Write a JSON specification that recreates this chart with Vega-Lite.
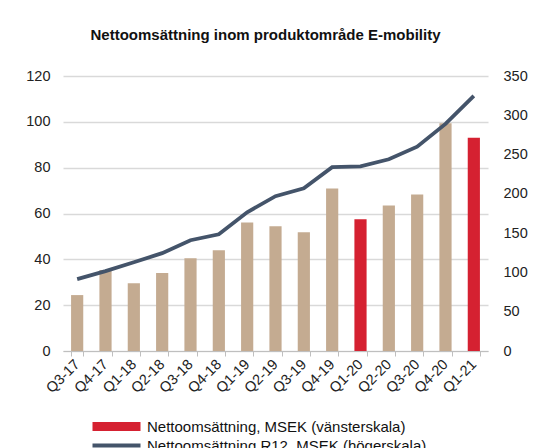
{
  "$schema": "https://vega.github.io/schema/vega-lite/v6.json",
  "width": 425,
  "height": 275,
  "autosize": "none",
  "padding": {"left": 63, "top": 76, "right": 68, "bottom": 97},
  "background": "white",
  "title": {"text": "Nettoomsättning inom produktområde E-mobility", "font": "Liberation Sans", "fontSize": 15, "fontWeight": "bold", "color": "#111", "offset": 25, "anchor": "middle", "dx": -10},
  "config": {
    "font": "Liberation Sans",
    "view": {"stroke": null},
    "axis": {"labelFont": "Liberation Sans", "labelFontSize": 14.5, "labelColor": "#222"},
    "legend": {"padding": 0}
  },
  "data": {"values": [
    {"q": "Q3-17", "sales": 24.4, "r12": 91.5, "hl": "ovrigt"},
    {"q": "Q4-17", "sales": 35.3, "r12": 101.6, "hl": "ovrigt"},
    {"q": "Q1-18", "sales": 29.6, "r12": 113, "hl": "ovrigt"},
    {"q": "Q2-18", "sales": 34.0, "r12": 124.5, "hl": "ovrigt"},
    {"q": "Q3-18", "sales": 40.5, "r12": 141, "hl": "ovrigt"},
    {"q": "Q4-18", "sales": 44.0, "r12": 148.6, "hl": "ovrigt"},
    {"q": "Q1-19", "sales": 56.1, "r12": 176.5, "hl": "ovrigt"},
    {"q": "Q2-19", "sales": 54.4, "r12": 197, "hl": "ovrigt"},
    {"q": "Q3-19", "sales": 51.8, "r12": 207, "hl": "ovrigt"},
    {"q": "Q4-19", "sales": 70.9, "r12": 234, "hl": "ovrigt"},
    {"q": "Q1-20", "sales": 57.5, "r12": 235, "hl": "Nettoomsättning, MSEK (vänsterskala)"},
    {"q": "Q2-20", "sales": 63.5, "r12": 244, "hl": "ovrigt"},
    {"q": "Q3-20", "sales": 68.3, "r12": 260, "hl": "ovrigt"},
    {"q": "Q4-20", "sales": 99.4, "r12": 289, "hl": "ovrigt"},
    {"q": "Q1-21", "sales": 93.1, "r12": 324.7, "hl": "Nettoomsättning, MSEK (vänsterskala)"}
  ]},
  "encoding": {
    "x": {"field": "q", "type": "ordinal", "sort": null, "title": null,
      "scale": {"paddingInner": 0.57, "paddingOuter": 0.285},
      "axis": {"labelAngle": -45, "labelAlign": "right", "labelBaseline": "middle", "labelFontSize": 14.5, "labelPadding": 6,
        "domainColor": "#bfbfbf", "tickColor": "#bfbfbf", "tickSize": 5, "tickBand": "extent", "grid": false}}
  },
  "layer": [
    {
      "mark": {"type": "bar"},
      "encoding": {
        "y": {"field": "sales", "type": "quantitative", "title": null,
          "scale": {"domain": [0, 120], "nice": false},
          "axis": {"values": [0, 20, 40, 60, 80, 100, 120], "orient": "left", "domain": false, "ticks": false, "labelPadding": 13, "gridColor": "#d9d9d9", "gridWidth": 1.3}},
        "color": {"field": "hl", "type": "nominal", "title": null,
          "scale": {"domain": ["Nettoomsättning, MSEK (vänsterskala)", "ovrigt"], "range": ["#d52131", "#c4ab91"]},
          "legend": {"values": ["Nettoomsättning, MSEK (vänsterskala)"], "orient": "none", "legendX": 46, "legendY": 343,
            "symbolType": "M-4.8,-0.9H4.8V0.9H-4.8Z", "symbolSize": 100, "symbolStrokeWidth": 0, "labelOffset": 23,
            "labelFont": "Liberation Sans", "labelFontSize": 15, "labelColor": "#111", "labelLimit": 400}}
      }
    },
    {
      "mark": {"type": "line", "strokeWidth": 3.8, "color": "#44546a"},
      "encoding": {
        "y": {"field": "r12", "type": "quantitative", "title": null,
          "scale": {"domain": [0, 350], "nice": false},
          "axis": {"values": [0, 50, 100, 150, 200, 250, 300, 350], "orient": "right", "domain": false, "ticks": false, "grid": false, "labelPadding": 15}},
        "stroke": {"datum": "Nettoomsättning R12, MSEK (högerskala)", "type": "nominal", "title": null,
          "scale": {"range": ["#44546a"]},
          "legend": {"orient": "none", "legendX": 46, "legendY": 362,
            "symbolType": "M-4.8,0H4.8", "symbolSize": 100, "symbolStrokeWidth": 4, "symbolFillColor": "transparent", "labelOffset": 23,
            "labelFont": "Liberation Sans", "labelFontSize": 15, "labelColor": "#111", "labelLimit": 400}}
      }
    }
  ],
  "resolve": {"scale": {"y": "independent", "color": "independent"}}
}
